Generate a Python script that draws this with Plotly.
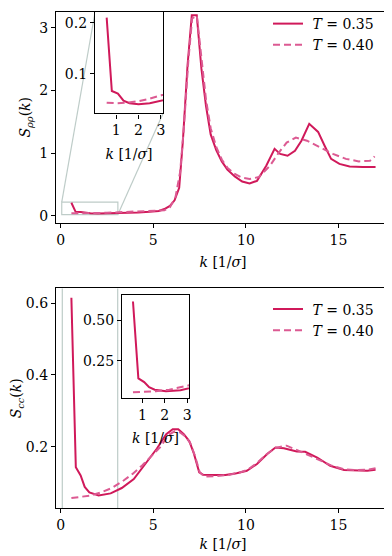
import plotly.graph_objects as go

# S_rho_rho(k), top panel
k_rr_35 = [0.58, 0.81, 1.08, 1.33, 1.6, 2.0, 2.5, 3.05, 3.6, 4.2, 4.8, 5.3, 5.6, 5.9, 6.15, 6.4,
           6.6, 6.85, 7.08, 7.35, 7.6, 7.85, 8.1, 8.4, 8.7, 9.0, 9.4, 9.8, 10.2, 10.6, 11.1,
           11.55, 11.85, 12.25, 12.65, 13.0, 13.42, 13.9, 14.25, 14.6, 15.05, 15.6, 16.3, 17.0]
s_rr_35 = [0.21, 0.066, 0.061, 0.047, 0.042, 0.040, 0.042, 0.047, 0.05, 0.055, 0.065, 0.08, 0.11, 0.16, 0.25, 0.45,
           1.2, 2.4, 3.2, 3.2, 2.35, 1.75, 1.3, 1.05, 0.87, 0.74, 0.63, 0.55, 0.52, 0.56, 0.8,
           1.07, 0.99, 0.96, 1.04, 1.2, 1.47, 1.34, 1.12, 0.91, 0.83, 0.79, 0.78, 0.78]
k_rr_40 = [0.58, 1.0, 1.5, 2.0, 2.5, 3.05, 3.6, 4.2, 4.8, 5.3, 5.6, 5.9, 6.2, 6.45, 6.65, 6.9,
           7.1, 7.35, 7.6, 7.85, 8.1, 8.4, 8.7, 9.0, 9.4, 9.8, 10.2, 10.7, 11.3, 11.8, 12.2,
           12.7, 13.3, 14.0, 14.7, 15.4, 16.1, 16.7, 16.95]
s_rr_40 = [0.043, 0.042, 0.043, 0.046, 0.051, 0.058, 0.06, 0.062, 0.07, 0.08, 0.09, 0.14, 0.3, 0.7, 1.4, 2.5,
           3.15, 3.2, 2.5, 1.85, 1.4, 1.1, 0.9, 0.77, 0.67, 0.61, 0.59, 0.62, 0.8, 1.02, 1.17,
           1.25, 1.2, 1.1, 0.99, 0.91, 0.87, 0.88, 0.95]

# S_cc(k), bottom panel
k_cc_35 = [0.58, 0.82, 1.08, 1.3, 1.55, 2.05, 2.7, 3.3, 3.95, 4.6, 5.2, 5.7, 6.05, 6.35, 6.65, 6.95,
           7.2, 7.48, 7.7, 8.3, 8.9, 9.5, 10.05, 10.6, 11.15, 11.6, 12.05, 12.75, 13.2, 13.85,
           14.55, 15.3, 16.0, 16.55, 17.0]
s_cc_35 = [0.615, 0.143, 0.12, 0.088, 0.073, 0.064, 0.07, 0.085, 0.11, 0.155, 0.195, 0.235, 0.249, 0.249, 0.235, 0.215,
           0.18, 0.129, 0.122, 0.121, 0.121, 0.126, 0.133, 0.152, 0.18, 0.198, 0.196, 0.187, 0.186, 0.17,
           0.147, 0.135, 0.133, 0.133, 0.136]
k_cc_40 = [0.58, 1.0, 1.6, 2.2, 2.8, 3.4, 3.9, 4.4, 4.9, 5.4, 5.8, 6.15, 6.45, 6.75, 7.0, 7.25,
           7.5, 7.75, 8.3, 9.0, 9.6, 10.1, 10.6, 11.1, 11.6, 12.2, 12.8, 13.5, 14.1, 14.6,
           15.3, 16.0, 16.6, 17.0]
s_cc_40 = [0.057, 0.06, 0.064, 0.073, 0.086, 0.106, 0.125, 0.148, 0.175, 0.2, 0.232, 0.243, 0.24, 0.228, 0.21, 0.175,
           0.13, 0.117, 0.118, 0.121, 0.127, 0.136, 0.155, 0.178, 0.197, 0.203, 0.19, 0.175, 0.16, 0.148,
           0.137, 0.135, 0.136, 0.14]

labels = ["&nbsp;<i>T</i> = 0.35", "&nbsp;<i>T</i> = 0.40"]

# the page body has an 8px margin, so the figure is laid out in page pixels minus 8
OFF = 8
W, H = 392 - OFF, 556 - OFF
c_solid = "#d0195a"
c_dash = "#dc5a92"
c_grey = "rgb(190,204,200)"
FONT = "DejaVu Serif"
FS = 14


def xdom(a, b):
    return [(a - OFF) / W, min(b - OFF, W) / W]


def ydom(top, bottom):
    return [1 - (bottom - OFF) / H, 1 - max(top - OFF, 0.6) / H]


dom = {
    "main1": (xdom(56, 390), ydom(8.6, 221)),
    "main2": (xdom(56, 390), ydom(287, 508)),
    "ins1": (xdom(95, 163), ydom(9.5, 111)),
    "ins2": (xdom(122, 189), ydom(294, 397)),
}
xr_main = [-0.25, 17.78]
yr_main1 = [-0.11, 3.26]
yr_main2 = [0.0286, 0.641]
xr_ins1, yr_ins1 = [0.06, 3.09], [0.022, 0.22]
xr_ins2, yr_ins2 = [0.09, 3.08], [0.023, 0.652]

fig = go.Figure()


def add_pair(kx1, sy1, kx2, sy2, xa, ya, legend=None):
    fig.add_trace(go.Scatter(x=kx1, y=sy1, mode="lines", name=labels[0], xaxis=xa, yaxis=ya,
                             line=dict(color=c_solid, width=2), showlegend=legend is not None,
                             legend=legend or "legend"))
    fig.add_trace(go.Scatter(x=kx2, y=sy2, mode="lines", name=labels[1], xaxis=xa, yaxis=ya,
                             line=dict(color=c_dash, width=2, dash="7px,4px"), showlegend=legend is not None,
                             legend=legend or "legend"))


add_pair(k_rr_35, s_rr_35, k_rr_40, s_rr_40, "x", "y", "legend")
add_pair(k_cc_35, s_cc_35, k_cc_40, s_cc_40, "x2", "y2", "legend2")
add_pair(k_rr_35, s_rr_35, k_rr_40, s_rr_40, "x3", "y3")
add_pair(k_cc_35, s_cc_35, k_cc_40, s_cc_40, "x4", "y4")

xlab = "<i>k</i> [1/<i>σ</i>]"


def ax(domain, rng, anchor, ticks, fmt=None, title=None, standoff=None):
    d = dict(domain=domain, range=rng, anchor=anchor, tickvals=ticks,
             showline=True, mirror=True, linecolor="black", linewidth=1.2,
             ticks="outside", ticklen=4, tickwidth=1, tickcolor="black",
             showgrid=False, zeroline=False, automargin=False,
             tickfont=dict(family=FONT, size=FS, color="black"))
    if fmt:
        d["tickformat"] = fmt
    if title:
        d["title"] = dict(text=title, font=dict(family=FONT, size=FS, color="black"), standoff=standoff)
    return d


fig.update_layout(
    width=W, height=H, margin=dict(l=0, r=0, t=0, b=0),
    paper_bgcolor="white", plot_bgcolor="white",
    font=dict(family=FONT, size=FS, color="black"),
    xaxis=ax(dom["main1"][0], xr_main, "y", [0, 5, 10, 15], title=xlab, standoff=10),
    yaxis=ax(dom["main1"][1], yr_main1, "x", [0, 1, 2, 3], title="<i>S</i><sub><i>ρρ</i></sub>(<i>k</i>)", standoff=5),
    xaxis2=ax(dom["main2"][0], xr_main, "y2", [0, 5, 10, 15], title=xlab, standoff=7),
    yaxis2=ax(dom["main2"][1], yr_main2, "x2", [0.2, 0.4, 0.6], fmt=".1f",
              title="<i>S</i><sub><i>cc</i></sub>(<i>k</i>)", standoff=6),
    xaxis3=ax(dom["ins1"][0], xr_ins1, "y3", [1, 2, 3], title=xlab, standoff=11),
    yaxis3=ax(dom["ins1"][1], yr_ins1, "x3", [0.1, 0.2], fmt=".1f"),
    xaxis4=ax(dom["ins2"][0], xr_ins2, "y4", [1, 2, 3], title=xlab, standoff=11),
    yaxis4=ax(dom["ins2"][1], yr_ins2, "x4", [0.25, 0.5], fmt=".2f"),
    legend=dict(x=(268 - OFF) / W, y=1 - (5 - OFF) / H, xanchor="left", yanchor="top", bgcolor="rgba(0,0,0,0)",
                font=dict(family=FONT, size=FS, color="black"), tracegroupgap=0),
    legend2=dict(x=(268 - OFF) / W, y=1 - (292 - OFF) / H, xanchor="left", yanchor="top", bgcolor="rgba(0,0,0,0)",
                 font=dict(family=FONT, size=FS, color="black"), tracegroupgap=0),
)


def to_paper(xv, yv, xr, yr, d):
    xd, yd = d
    px = xd[0] + (xv - xr[0]) / (xr[1] - xr[0]) * (xd[1] - xd[0])
    py = yd[0] + (yv - yr[0]) / (yr[1] - yr[0]) * (yd[1] - yd[0])
    return px, py


# zoom box in top panel and connector lines
fig.add_shape(type="rect", xref="x", yref="y", x0=xr_ins1[0], x1=xr_ins1[1], y0=yr_ins1[0], y1=yr_ins1[1],
              line=dict(color=c_grey, width=1.2), layer="below")
p1 = to_paper(xr_ins1[0], yr_ins1[1], xr_main, yr_main1, dom["main1"])
p2 = to_paper(xr_ins1[1], yr_ins1[0], xr_main, yr_main1, dom["main1"])
fig.add_shape(type="line", xref="paper", yref="paper", x0=p1[0], y0=p1[1],
              x1=dom["ins1"][0][0], y1=dom["ins1"][1][1], line=dict(color=c_grey, width=1.2), layer="below")
fig.add_shape(type="line", xref="paper", yref="paper", x0=p2[0], y0=p2[1],
              x1=dom["ins1"][0][1], y1=dom["ins1"][1][0], line=dict(color=c_grey, width=1.2), layer="below")

# zoom box in bottom panel (extends beyond axes, only verticals visible)
for xv in xr_ins2:
    fig.add_shape(type="line", xref="x2", yref="paper", x0=xv, x1=xv, y0=dom["main2"][1][0], y1=dom["main2"][1][1],
                  line=dict(color=c_grey, width=1.2), layer="below")

fig.write_html("out.html")
